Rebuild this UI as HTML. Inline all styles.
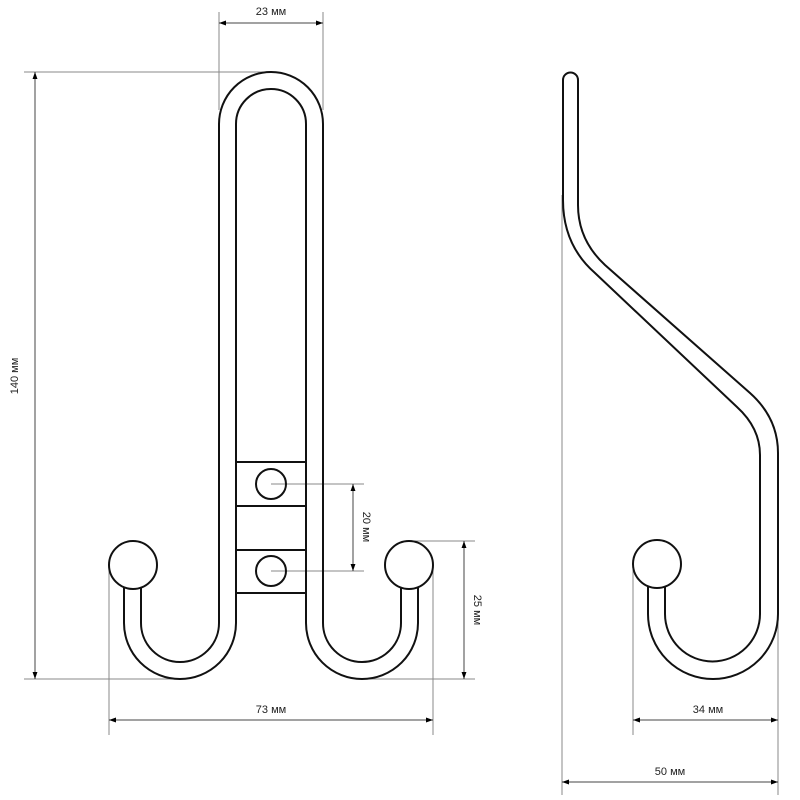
<!DOCTYPE html>
<html><head><meta charset="utf-8"><style>html,body{margin:0;padding:0;background:#fff}svg{display:block}</style></head><body>
<svg width="800" height="800" viewBox="0 0 800 800" xmlns="http://www.w3.org/2000/svg" font-family="Liberation Sans, sans-serif">
<defs>
<marker id="a" viewBox="0 0 10 10" refX="10" refY="5" markerWidth="7" markerHeight="7" orient="auto-start-reverse"><path d="M0,1.5 L10,5 L0,8.5 z" fill="#000"/></marker>
</defs>
<g stroke="#888" stroke-width="1" fill="none">
<!-- 23 mm -->
<line x1="219" y1="12" x2="219" y2="110"/><line x1="323" y1="12" x2="323" y2="110"/>
<line x1="219" y1="23" x2="323" y2="23" stroke="#444" marker-start="url(#a)" marker-end="url(#a)"/>
<!-- 140 mm -->
<line x1="24" y1="72" x2="271" y2="72"/><line x1="24" y1="679" x2="180" y2="679"/>
<line x1="35" y1="72" x2="35" y2="679" stroke="#444" marker-start="url(#a)" marker-end="url(#a)"/>
<!-- 20 mm -->
<line x1="271" y1="484" x2="364" y2="484"/><line x1="271" y1="571" x2="364" y2="571"/>
<line x1="353" y1="484" x2="353" y2="571" stroke="#444" marker-start="url(#a)" marker-end="url(#a)"/>
<!-- 25 mm -->
<line x1="409" y1="541" x2="475" y2="541"/><line x1="362" y1="679" x2="475" y2="679"/>
<line x1="464" y1="541" x2="464" y2="679" stroke="#444" marker-start="url(#a)" marker-end="url(#a)"/>
<!-- 73 mm -->
<line x1="109" y1="565" x2="109" y2="735"/><line x1="433" y1="565" x2="433" y2="735"/>
<line x1="109" y1="720" x2="433" y2="720" stroke="#444" marker-start="url(#a)" marker-end="url(#a)"/>
<!-- 34 mm -->
<line x1="633" y1="565" x2="633" y2="735"/><line x1="778" y1="455" x2="778" y2="795"/>
<line x1="633" y1="720" x2="778" y2="720" stroke="#444" marker-start="url(#a)" marker-end="url(#a)"/>
<!-- 50 mm -->
<line x1="562" y1="195" x2="562" y2="795"/>
<line x1="562" y1="782" x2="778" y2="782" stroke="#444" marker-start="url(#a)" marker-end="url(#a)"/>
</g>
<g font-size="11" fill="#222" text-anchor="middle">
<text x="271" y="15">23 мм</text>
<text x="271" y="713">73 мм</text>
<text x="708" y="713">34 мм</text>
<text x="670" y="775">50 мм</text>
<text transform="translate(18,376) rotate(-90)">140 мм</text>
<text transform="translate(363,527) rotate(90)">20 мм</text>
<text transform="translate(474,610) rotate(90)">25 мм</text>
</g>
<g stroke="#111" stroke-width="2" fill="none">
<path d="M141,587 V623 A39,39 0 0 0 219,623 V124 A52,52 0 0 1 323,124 V623 A39,39 0 0 0 401,623 V587"/>
<path d="M124,587 V623 A56,56 0 0 0 236,623 V124 A35,35 0 0 1 306,124 V623 A56,56 0 0 0 418,623 V587"/>
<line x1="236" y1="462" x2="306" y2="462"/><line x1="236" y1="506" x2="306" y2="506"/>
<line x1="236" y1="550" x2="306" y2="550"/><line x1="236" y1="593" x2="306" y2="593"/>
<circle cx="271" cy="484" r="15"/><circle cx="271" cy="571" r="15"/>
<circle cx="133" cy="565" r="24" fill="#fff"/><circle cx="409" cy="565" r="24" fill="#fff"/>
<!-- side view -->
<path d="M665,587 V614 A47.5,47.5 0 0 0 760,614 V455 Q760,428 737,407 L595,273 Q563,245 563,200 V80 A7.5,7.5 0 0 1 578,80 V205 Q578,240 605,265 L750,393 Q778,418 778,453 V614 A65,65 0 0 1 648,614 V587"/>
<circle cx="657" cy="564" r="24" fill="#fff"/>
</g>
</svg>
</body></html>
